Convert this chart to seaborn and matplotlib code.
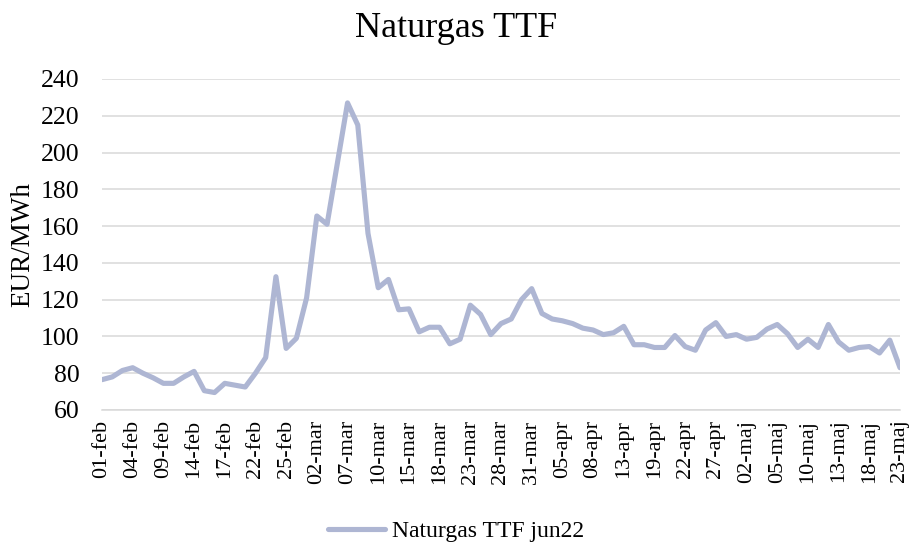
import matplotlib

matplotlib.use("Agg")
import matplotlib.pyplot as plt
import numpy as np
import pandas as pd
import seaborn as sns

# trading days 1 Feb - 23 May 2022 (Good Friday closed)
START = "2022-02-01"
END = "2022-05-23"
HOLIDAYS = ["2022-04-15"]
MONTHS_DA = {2: "feb", 3: "mar", 4: "apr", 5: "maj"}

PRICES = [
    76.5, 78, 81.5, 83, 80, 77.5, 74.5, 74.5, 78, 81,
    70.5, 69.5, 74.5, 73.5, 72.5, 80, 88.5, 132.5, 93.5, 99,
    121, 165.5, 161, 194, 227, 215, 156, 126.5, 131, 114.5,
    115, 102.5, 105, 105, 96, 98.5, 117, 112, 101, 107,
    109.5, 120, 126, 112.5, 109.5, 108.5, 107, 104.5, 103.5, 101,
    102, 105.5, 95.5, 95.5, 94, 94, 100.5, 94.5, 92.5, 103.5,
    107.5, 100, 101, 98.5, 99.5, 104, 106.5, 101.5, 94, 98.5,
    94, 106.5, 97, 92.5, 94, 94.5, 91, 98, 83,
]
SERIES = "Naturgas TTF jun22"
TITLE = "Naturgas TTF"
YLABEL = "EUR/MWh"
YTICKS = list(range(60, 241, 20))

dates = pd.bdate_range(START, END)
dates = dates[~dates.isin(pd.to_datetime(HOLIDAYS))]
labels = [f"{d.day:02d}-{MONTHS_DA[d.month]}" for d in dates]
df = pd.DataFrame({"pos": np.arange(len(PRICES)), "price": PRICES, "label": labels})

sns.set_theme(style="white")
plt.rcParams["font.family"] = ["Liberation Serif", "DejaVu Serif"]
plt.rcParams.update({"text.color": "black", "axes.labelcolor": "black",
                     "xtick.color": "black", "ytick.color": "black"})

fig = plt.figure(figsize=(9.12, 5.47), dpi=100)
ax = fig.add_axes([102 / 912, 1 - 410 / 547, (900 - 102) / 912, (410 - 79) / 547])

sns.lineplot(data=df, x="pos", y="price", ax=ax, color="#aeb6d3", linewidth=3.7,
             label=SERIES, legend=False, solid_capstyle="round", solid_joinstyle="round")

ax.set_xlim(0, len(PRICES) - 1)
ax.set_ylim(60, 240)
ax.set_yticks(YTICKS)
ax.set_xticks(df["pos"])
ax.set_xticklabels([lab if i % 3 == 0 else "" for i, lab in enumerate(df["label"])],
                   rotation=90, fontsize=16)
ax.tick_params(axis="x", length=4, width=0.8, color="#d9d9d9", labelcolor="black", pad=3)
ax.tick_params(axis="y", length=0, labelsize=18.5, labelcolor="black", pad=16)
ax.grid(axis="y", color="#d9d9d9", linewidth=1.1)
ax.set_axisbelow(True)
for s in ["top", "right", "left"]:
    ax.spines[s].set_visible(False)
ax.spines["bottom"].set_color("#d9d9d9")
ax.spines["bottom"].set_linewidth(1.1)
ax.set_xlabel("")
ax.set_ylabel(YLABEL, fontsize=19.5, labelpad=4)

fig.suptitle(TITLE, fontsize=26, y=0.978)
handles, labs = ax.get_legend_handles_labels()
fig.legend(handles, labs, loc="center", bbox_to_anchor=(0.5, 0.028), frameon=False,
           fontsize=17, handlelength=2.4, handletextpad=0.3)

fig.savefig("out.png", dpi=100)
